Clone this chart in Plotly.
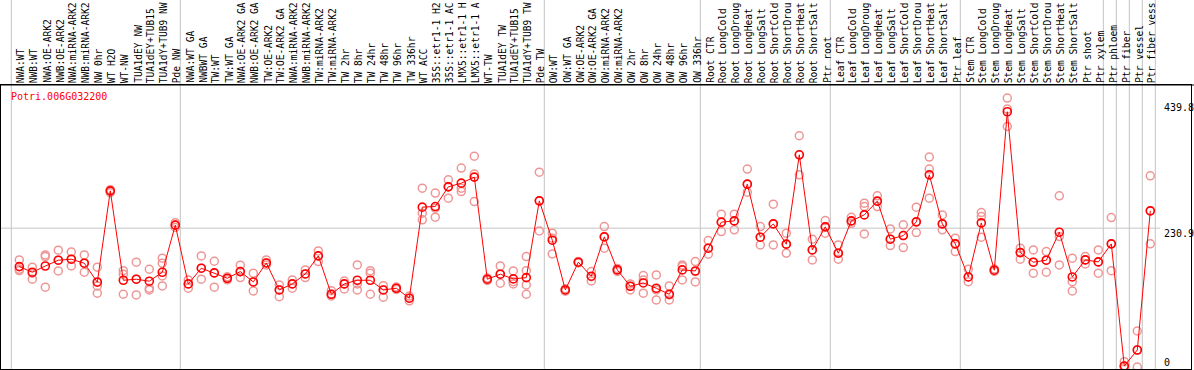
import plotly.graph_objects as go

gene = "Potri.006G032200"

samples = [
    "NWA:WT", "NWB:WT", "NWA:OE-ARK2", "NWB:OE-ARK2", "NWA:miRNA-ARK2", "NWB:miRNA-ARK2",
    "NW 0hr", "WT H2O", "WT-NW", "TUA1dEY NW", "TUA1dEY+TUB15 NW", "TUA1dY+TUB9 NW", "Pde NW",
    "NWA:WT GA", "NWBWT GA", "TW:WT", "TW:WT GA", "NWA:OE-ARK2 GA", "NWB:OE-ARK2 GA",
    "TW:OE-ARK2", "TW:OE-ARK2 GA", "NWA:miRNA-ARK2 GA", "NWB:miRNA-ARK2 GA", "TW:miRNA-ARK2",
    "TW:miRNA-ARK2 GA", "TW 2hr", "TW 8hr", "TW 24hr", "TW 48hr", "TW 96hr", "TW 336hr",
    "WT ACC", "35S::etr1-1 H2O", "35S::etr1-1 ACC", "LMX5::etr1-1 H2O", "LMX5::etr1-1 ACC",
    "WT-TW", "TUA1dEY TW", "TUA1dEY+TUB15 TW", "TUA1dY+TUB9 TW", "Pde TW",
    "OW:WT", "OW:WT GA", "OW:OE-ARK2", "OW:OE-ARK2 GA", "OW:miRNA-ARK2", "OW:miRNA-ARK2 GA",
    "OW 2hr", "OW 8hr", "OW 24hr", "OW 48hr", "OW 96hr", "OW 336hr",
    "Root CTR", "Root LongCold", "Root LongDrought", "Root LongHeat", "Root LongSalt",
    "Root ShortCold", "Root ShortDrought", "Root ShortHeat", "Root ShortSalt", "Ptr root",
    "Leaf CTR", "Leaf LongCold", "Leaf LongDrought", "Leaf LongHeat", "Leaf LongSalt",
    "Leaf ShortCold", "Leaf ShortDrought", "Leaf ShortHeat", "Leaf ShortSalt", "Ptr leaf",
    "Stem CTR", "Stem LongCold", "Stem LongDrought", "Stem LongHeat", "Stem LongSalt",
    "Stem ShortCold", "Stem ShortDrought", "Stem ShortHeat", "Stem ShortSalt", "Ptr shoot",
    "Ptr xylem", "Ptr phloem", "Ptr fiber", "Ptr vessel", "Ptr fiber vessel",
]
label_chars = 14  # the label band only shows the first 14 characters

# index of the last sample in each group (-1 = before the first one)
group_ends = [-1, 12, 40, 52, 62, 72, 83, 84, 85, 86, 87]

means = [
    167, 157.6, 168, 177.6, 179.3, 172.6, 141, 293, 144.3, 146, 142.7, 157.6, 235.9,
    138.2, 164.3, 156.5, 147.6, 158.7, 141.5, 173.1, 128.2, 138.2, 154.8, 184.8, 121,
    138.2, 144.3, 144.3, 128.2, 131, 114.4, 265.9, 266.9, 299.6, 305.8, 315.8, 146,
    154.3, 146.5, 148.7, 276.3,
    210.9, 128.2, 174.3, 151, 216.4, 161.5, 134.3, 139.8, 131, 121, 161.5, 159.8,
    197.6, 240.9, 243, 304.1, 215.9, 238, 204.3, 352.9, 194.8, 233.1,
    189.3, 243, 253, 275.8, 212.6, 218.6, 241.4, 319.6, 238, 204.8,
    149.8, 239.7, 161, 424.5, 190.3, 174.3, 177.6, 224.2, 149.8, 178.1, 174.8,
    204.8, 1.7, 28.3, 259.7,
]

replicates = [
    [178, 162.6, 160.4], [166, 156, 146], [186.4, 183.6, 132.7], [194.3, 177.6, 159.8],
    [191.4, 179.3, 168.1], [186.4, 172.6, 157.6], [166, 142, 134.8, 122.7], [295, 292, 290],
    [160.3, 154.3, 121], [174.3, 146, 119.9], [162.6, 131, 128.2], [181, 172.6, 151.5, 134.8],
    [240, 236, 232],
    [144.8, 138.2, 131], [184.8, 164.3, 146], [175.9, 156.5, 132.7], [150, 147, 145],
    [169.3, 158.7, 148.7], [156, 141.5, 126.5], [178, 173, 169.8], [136.5, 128.2, 117],
    [144.8, 138.2, 131], [161.5, 154.8, 148.7], [193, 184.8, 175.3], [127, 121, 118.2],
    [143, 138.2, 129.8], [169.8, 138.2, 128.2], [160.3, 156, 121], [135.3, 128.2, 116],
    [133, 131, 129], [118, 114.4, 110], [297.5, 255.9, 244.7], [289.2, 264.2, 249.2],
    [311.3, 300.2, 280.8], [330.8, 297.5, 291.8], [350.7, 320.8, 275.2], [148, 146, 144],
    [168.1, 154.3, 139.3], [159.8, 142, 138.2], [183.6, 160.3, 136.5, 121], [324.1, 276.3, 226.4],
    [222.6, 214.3, 188.1], [130, 128.2, 126], [175.5, 174.3, 173], [158.7, 150.3, 143.2],
    [233.6, 217, 197.6], [164, 161.5, 159], [138.2, 134.3, 128.2], [152, 144.8, 122.7],
    [153.2, 128.2, 111.5], [134.8, 119.9, 111.5], [169.8, 167, 144.8], [175.3, 158.7, 141.5],
    [210.3, 197.6, 187.6], [254.2, 240.9, 225.2], [254.2, 243, 228.1], [329.1, 304.1, 290.8],
    [233.6, 215.9, 203.1], [270.8, 238, 203.1], [222.6, 204.3, 189.3], [384.6, 352.9, 319.6],
    [212.6, 194.8, 178.1], [243.6, 233.1, 222.6],
    [203.1, 189.3, 179.3], [249, 243, 239], [272.5, 266.9, 221.4], [284.7, 275.8, 266.9],
    [229.7, 212.6, 202], [236.4, 218.6, 198.6], [265.9, 241.4, 223.6], [349.1, 329.1, 280.8],
    [253, 238, 228.1], [214.3, 204.8, 191.9],
    [162.6, 149.8, 142], [256.9, 250.2, 215.9], [163, 161, 159], [447.3, 429, 400],
    [197.6, 190.3, 179.3], [194.8, 174.3, 156], [191.9, 177.6, 157.6], [284.7, 217, 169.8],
    [181, 142, 126.5], [183.6, 178.1, 171.5], [194.8, 174.8, 156],
    [248.5, 204.8, 160.3], [8.8, 1.7, 0], [59.9, 28.3, 0], [318, 259.7, 204.8],
]

ytick_vals = [439.8, 230.9, 0]
ytick_text = ["439.8", "230.9", "0"]
grid_value = 230.9

W, H = 1194, 370
ML, MR, MT, MB = 1, 3, 85, 1
PW = W - ML - MR
PH = H - MT - MB

MONO = "DejaVu Sans Mono"
RED = "#ff0000"
PINK = "rgb(238,150,150)"
GRID = "#c4c4c4"

xs = list(range(len(samples)))
rep_x, rep_y = [], []
for i, reps in enumerate(replicates):
    for v in reps:
        rep_x.append(i)
        rep_y.append(v)

fig = go.Figure()
fig.add_trace(go.Scatter(
    x=rep_x, y=rep_y, mode="markers", hoverinfo="skip", showlegend=False,
    marker=dict(symbol="circle-open", size=8, color=PINK, line=dict(width=1.5, color=PINK)),
    cliponaxis=True,
))
fig.add_trace(go.Scatter(
    x=xs, y=means, mode="lines+markers", showlegend=False,
    line=dict(color=RED, width=1),
    marker=dict(symbol="circle-open", size=8, color=RED, line=dict(width=1.6, color=RED)),
    text=samples, hovertemplate="%{text}: %{y}<extra></extra>",
    cliponaxis=True,
))

shapes = []
# vertical group separators (span label band too)
for g in group_ends:
    shapes.append(dict(type="line", xref="x", yref="paper", x0=g + 0.385, x1=g + 0.385,
                       y0=0, y1=1 + MT / PH + 0.05, line=dict(color=GRID, width=1), layer="below"))
# horizontal reference line
shapes.append(dict(type="line", xref="paper", yref="y", x0=0, x1=(1160 - ML) / PW,
                   y0=grid_value, y1=grid_value, line=dict(color=GRID, width=1), layer="below"))
# top separator line across full width
shapes.append(dict(type="line", xref="paper", yref="paper", x0=-ML / PW, x1=(PW + MR) / PW,
                   y0=1, y1=1, line=dict(color="black", width=1)))

annotations = []
for i, s in enumerate(samples):
    annotations.append(dict(x=i, xref="x", y=1, yref="paper", yshift=0, xshift=1.5,
                            text=s[:label_chars],
                            showarrow=False, textangle=-90, xanchor="center", yanchor="bottom",
                            font=dict(family=MONO, size=9.6, color="black")))
annotations.append(dict(x=(9 - ML) / PW, xref="paper", y=1 - (97 - MT) / PH, yref="paper",
                        text=gene, showarrow=False, xanchor="left", yanchor="middle",
                        font=dict(family=MONO, size=10, color=RED)))
for v, t in zip(ytick_vals, ytick_text):
    annotations.append(dict(x=(1162 - ML) / PW, xref="paper", y=v, yref="y", text=t,
                            showarrow=False, xanchor="left", yanchor="middle",
                            yshift=(5 if v == 0 else -5),
                            font=dict(family=MONO, size=10, color="black")))

fig.update_layout(
    width=W, height=H, margin=dict(l=ML, r=MR, t=MT, b=MB, pad=0),
    paper_bgcolor="white", plot_bgcolor="white",
    xaxis=dict(range=[(ML - 19.3) / 13, (W - MR - 19.3) / 13], showgrid=False, zeroline=False,
               showticklabels=False, ticks="", showline=True, mirror=True, linecolor="black",
               linewidth=1, fixedrange=True),
    yaxis=dict(range=[-3.3, 469], showgrid=False, zeroline=False, showticklabels=False,
               ticks="", showline=True, mirror=True, linecolor="black", linewidth=1,
               fixedrange=True),
    shapes=shapes, annotations=annotations, showlegend=False,
)

fig.write_html(
    "out.html",
    config={"displayModeBar": False},
    post_script="document.body.style.margin='0';document.body.style.overflow='hidden';",
)
